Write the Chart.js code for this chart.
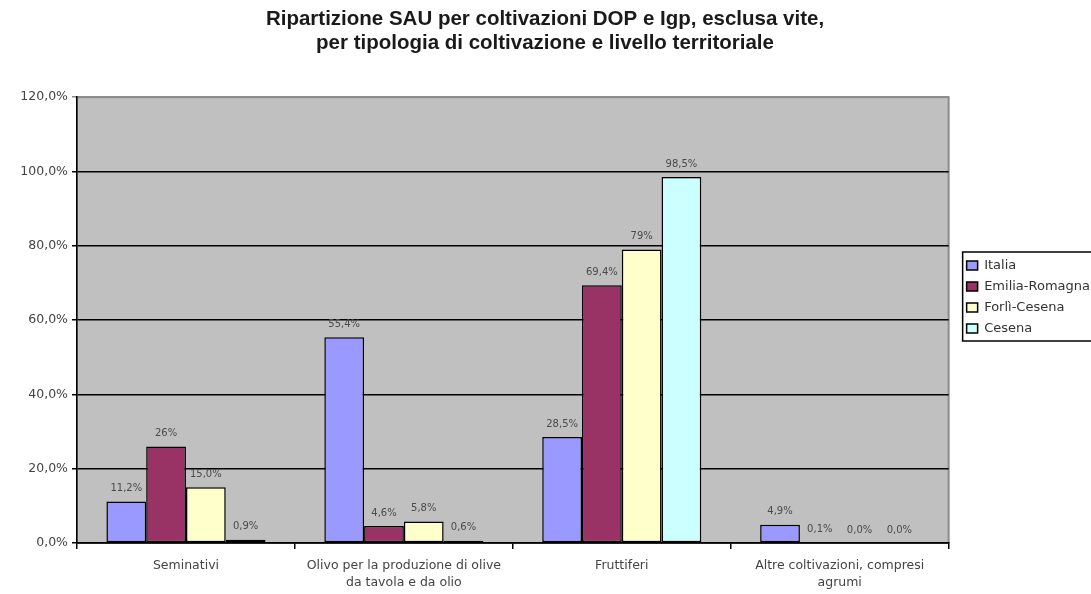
<!DOCTYPE html>
<html>
<head>
<meta charset="utf-8">
<script src="https://cdn.jsdelivr.net/npm/chart.js@4/dist/chart.umd.min.js"></script>
<style>
  html, body { margin: 0; padding: 0; background: #fff; }
  #wrap { width: 1091px; height: 594px; }
</style>
</head>
<body>
<div id="wrap"><canvas id="sauChart" width="1091" height="594"></canvas></div>
<script>
// Categories (x axis), one entry per line
const categories = [
    ['Seminativi'],
    ['Olivo per la produzione di olive', 'da tavola e da olio'],
    ['Fruttiferi'],
    ['Altre coltivazioni, compresi', 'agrumi']
];

// Series values (percent)
const italia = [11.2, 55.4, 28.5, 4.9];
const emiliaRomagna = [26, 4.6, 69.4, 0.1];
const forliCesena = [15.0, 5.8, 79, 0.0];
const cesena = [0.9, 0.6, 98.5, 0.0];

// Data labels exactly as printed on the chart
const italiaLabels = ['11,2%', '55,4%', '28,5%', '4,9%'];
const emiliaLabels = ['26%', '4,6%', '69,4%', '0,1%'];
const forliLabels = ['15,0%', '5,8%', '79%', '0,0%'];
const cesenaLabels = ['0,9%', '0,6%', '98,5%', '0,0%'];

const yTicks = [0, 20, 40, 60, 80, 100, 120];

const FONT = "'DejaVu Sans', 'Liberation Sans', Arial, sans-serif";
const TITLE_FONT = "'Liberation Sans', Arial, sans-serif";

// Grey plot area with a thin grey frame
const plotBackground = {
    id: 'plotBackground',
    beforeDraw(chart) {
        const { ctx, chartArea: a } = chart;
        ctx.save();
        ctx.fillStyle = '#C0C0C0';
        ctx.fillRect(a.left, a.top, a.width, a.height);
        ctx.strokeStyle = '#8c8c8c';
        ctx.lineWidth = 2;
        ctx.strokeRect(a.left, a.top, a.width, a.height);
        ctx.restore();
    }
};

// Value labels above each bar
const barLabels = {
    id: 'barLabels',
    afterDatasetsDraw(chart) {
        const ctx = chart.ctx;
        ctx.save();
        ctx.font = '10px ' + FONT;
        ctx.fillStyle = '#4a4a4a';
        ctx.textAlign = 'center';
        ctx.textBaseline = 'bottom';
        chart.data.datasets.forEach((ds, i) => {
            chart.getDatasetMeta(i).data.forEach((bar, j) => {
                ctx.fillText(ds.valueLabels[j], bar.x, bar.y - 8);
            });
        });
        ctx.restore();
    }
};

// Push the legend a little away from the plot and frame it
const legendFrame = {
    id: 'legendFrame',
    afterLayout(chart) {
        const lg = chart.legend;
        const shift = chart.chartArea.right + 10 - lg.left;
        lg.left += shift;
        lg.right += shift;
    },
    afterDraw(chart) {
        const lg = chart.legend;
        const boxes = lg.legendHitBoxes;
        if (!boxes || !boxes.length) return;
        const ctx = chart.ctx;
        const left = lg.left + lg.options.labels.padding - 4;
        const top = boxes[0].top - 7;
        const last = boxes[boxes.length - 1];
        const bottom = last.top + last.height + 6;
        ctx.save();
        ctx.strokeStyle = '#000';
        ctx.lineWidth = 1.5;
        ctx.strokeRect(left, top, chart.width - left + 5, bottom - top);
        ctx.restore();
    }
};

function makeSeries(label, values, labels, color) {
    return {
        label: label,
        data: values,
        valueLabels: labels,
        backgroundColor: color,
        borderColor: '#000',
        borderWidth: 1.5,
        borderSkipped: false,
        categoryPercentage: 0.73,
        barPercentage: 1.0
    };
}

new Chart(document.getElementById('sauChart'), {
    type: 'bar',
    data: {
        labels: categories,
        datasets: [
            makeSeries('Italia', italia, italiaLabels, '#9999FF'),
            makeSeries('Emilia-Romagna', emiliaRomagna, emiliaLabels, '#993366'),
            makeSeries('Forlì-Cesena', forliCesena, forliLabels, '#FFFFCC'),
            makeSeries('Cesena', cesena, cesenaLabels, '#CCFFFF')
        ]
    },
    options: {
        responsive: false,
        animation: false,
        layout: { padding: { top: 0, right: 1, bottom: 0, left: 0 } },
        scales: {
            x: {
                offset: true,
                grid: {
                    offset: true,
                    drawOnChartArea: false,
                    drawTicks: true,
                    tickLength: 6,
                    color: '#000',
                    lineWidth: 1.5
                },
                border: { color: '#000', width: 1.5 },
                ticks: {
                    color: '#444',
                    font: { family: FONT, size: 12.5, lineHeight: 1.35 },
                    maxRotation: 0,
                    padding: 8
                },
                afterFit(scale) { scale.height = 51; }
            },
            y: {
                min: 0,
                max: 120,
                afterBuildTicks(scale) { scale.ticks = yTicks.map(v => ({ value: v })); },
                grid: {
                    color: ctx => ctx.tick && ctx.tick.value === 120 ? '#8c8c8c' : '#000',
                    lineWidth: 1.5,
                    tickLength: 5
                },
                border: { color: '#000', width: 1.5 },
                ticks: {
                    color: '#444',
                    font: { family: FONT, size: 12.5 },
                    padding: 4,
                    callback: v => v.toFixed(1).replace('.', ',') + '%'
                },
                afterFit(scale) { scale.width = 77; }
            }
        },
        plugins: {
            title: {
                display: true,
                text: ['Ripartizione SAU per coltivazioni DOP e Igp, esclusa vite,',
                       'per tipologia di coltivazione e livello territoriale'],
                color: '#1a1a1a',
                font: { family: TITLE_FONT, size: 20.5, weight: 'bold', lineHeight: 1.15 },
                padding: { top: 8, bottom: 42 }
            },
            legend: {
                position: 'right',
                align: 'center',
                labels: {
                    color: '#333',
                    font: { family: FONT, size: 13 },
                    boxWidth: 11,
                    boxHeight: 9,
                    padding: 8
                }
            },
            tooltip: { enabled: false }
        }
    },
    plugins: [plotBackground, barLabels, legendFrame]
});
</script>
</body>
</html>
